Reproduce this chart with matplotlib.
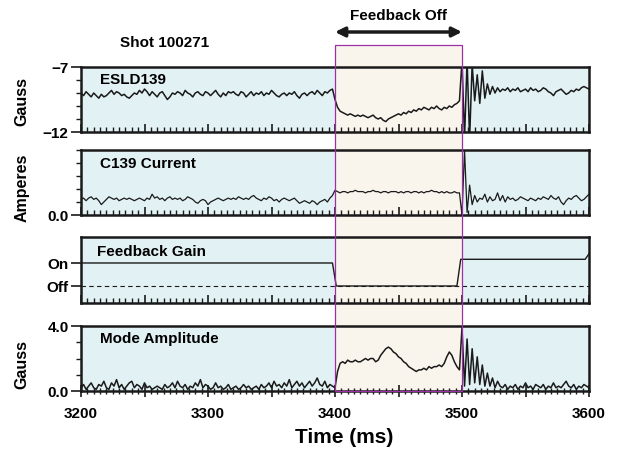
import numpy as np
import matplotlib.pyplot as plt
from matplotlib.patches import Rectangle
from matplotlib.transforms import blended_transform_factory

plt.rcParams['font.family'] = ['Liberation Sans', 'DejaVu Sans']
plt.rcParams['font.weight'] = 'bold'

# samples every 2 ms, 3200..3600
time = np.arange(3200, 3601, 2)

esld139 = [
    -9.0, -9.2, -8.9, -9.1, -9.3, -9.0, -9.2, -9.4, -9.1, -9.3,
    -9.2, -9.0, -8.8, -9.1, -8.9, -9.0, -9.2, -9.1, -9.3, -9.4,
    -9.2, -9.0, -9.1, -8.8, -9.0, -8.7, -8.9, -9.2, -8.9, -9.1,
    -9.3, -9.0, -8.9, -9.2, -9.5, -9.3, -9.0, -9.1, -8.9, -9.0,
    -9.2, -8.8, -9.0, -9.1, -9.3, -9.0, -8.9, -9.1, -9.2, -8.9,
    -9.0, -9.2, -9.0, -8.8, -9.1, -9.3, -9.0, -9.2, -8.9, -9.0,
    -8.9, -9.1, -9.2, -8.9, -9.0, -9.3, -9.1, -8.9, -9.2, -9.0,
    -9.1, -8.9, -9.2, -9.0, -9.1, -8.8, -9.0, -9.2, -9.3, -9.1,
    -9.0, -9.2, -9.0, -9.1, -8.9, -9.2, -9.4, -9.1, -9.0, -9.2,
    -9.0, -8.9, -9.1, -8.8, -9.0, -9.2, -8.9, -9.0, -8.8, -8.7,
    -9.5, -10.1, -10.4, -10.5, -10.6, -10.7, -10.6, -10.7, -10.8, -10.7,
    -10.8, -10.7, -10.8, -10.9, -10.8, -10.7, -10.9, -11.0, -10.9, -11.1,
    -11.2, -11.0, -10.9, -10.8, -10.7, -10.6, -10.7, -10.5, -10.6, -10.4,
    -10.5, -10.3, -10.4, -10.2, -10.3, -10.1, -10.2, -10.3, -10.1, -10.2,
    -10.0, -10.2, -10.3, -10.1, -10.2, -10.0, -10.1, -9.9, -9.8, -9.6,
    -6.5, -12.5, -6.5, -12.5, -6.8, -9.6, -7.6, -9.8, -7.3, -9.4,
    -8.3, -9.1, -8.5, -9.0, -8.6, -8.9, -8.7, -8.8, -8.6, -8.9,
    -8.7, -8.8, -8.6, -8.9, -8.8, -8.7, -8.9, -8.6, -8.8, -8.7,
    -8.9, -8.8, -8.6, -8.7, -8.9, -9.0, -9.2, -8.9, -8.8, -8.7,
    -8.9, -9.1, -9.0, -8.8, -8.9, -8.7, -8.8, -8.6, -8.5, -8.6, -8.7,
]

c139_current = [
    1.2, 1.3, 1.1, 1.3, 1.4, 1.2, 1.3, 1.1, 0.8, 1.0,
    1.2, 1.4, 1.3, 1.2, 1.3, 1.1, 1.2, 1.3, 1.2, 1.3,
    1.2, 1.1, 1.2, 1.3, 1.2, 1.1, 1.3, 1.2, 1.6, 1.3,
    1.4, 1.2, 1.3, 1.1, 1.3, 1.4, 1.2, 1.3, 1.2, 1.3,
    1.1, 1.2, 1.4, 1.3, 1.2, 1.0, 0.9, 1.1, 1.2, 1.1,
    0.8, 1.0, 1.1, 1.2, 1.3, 1.2, 1.1, 1.2, 1.3, 1.2,
    1.3, 1.2, 1.4, 1.3, 1.2, 1.3, 1.2, 1.4, 1.5, 1.3,
    1.2, 1.1, 1.3, 1.2, 1.4, 1.3, 1.1, 1.2, 1.0, 1.2,
    1.3, 1.2, 1.1, 1.2, 1.3, 1.1, 0.9, 1.0, 1.1, 1.0,
    0.9, 1.1, 1.0, 0.8, 1.0, 1.1, 1.2, 1.0, 1.3, 1.5,
    1.9, 1.8, 1.7, 1.8, 1.8, 1.7, 1.8, 1.8, 1.9, 1.8,
    1.8, 1.8, 1.7, 1.8, 1.8, 1.9, 1.8, 1.8, 1.7, 1.8,
    1.8, 1.7, 1.8, 1.8, 1.8, 1.7, 1.8, 1.7, 1.8, 1.8,
    1.7, 1.8, 1.8, 1.7, 1.8, 1.7, 1.8, 1.8, 1.9, 1.8,
    1.8, 1.7, 1.8, 1.7, 1.8, 1.7, 1.7, 1.8, 1.7, 1.7,
    0.0, 5.0, 0.2, 2.3, 0.8, 1.5, 1.0, 1.3, 1.2, 1.6,
    1.0, 1.4, 1.1, 1.2, 1.7, 1.1, 1.5, 1.0, 1.4, 1.2,
    1.3, 1.1, 1.2, 1.4, 1.3, 1.2, 1.1, 1.3, 1.2, 1.1,
    1.3, 1.2, 1.4, 1.3, 1.2, 1.5, 1.3, 1.2, 1.4, 1.0,
    0.8, 1.1, 1.3, 1.2, 1.4, 1.5, 1.3, 1.1, 1.2, 1.4, 1.6,
]

mode_amp = [
    0.2, 0.4, 0.1, 0.3, 0.5, 0.2, 0.1, 0.4, 0.3, 0.6,
    0.2, 0.1, 0.5, 0.3, 0.7, 0.2, 0.4, 0.1, 0.3, 0.5,
    0.6, 0.2, 0.4, 0.3, 0.1, 0.5, 0.2, 0.3, 0.1, 0.2,
    0.3, 0.2, 0.1, 0.4, 0.2, 0.3, 0.5, 0.2, 0.6, 0.3,
    0.2, 0.4, 0.1, 0.3, 0.2, 0.5, 0.3, 0.7, 0.2, 0.4,
    0.3, 0.1, 0.2, 0.5, 0.2, 0.3, 0.1, 0.2, 0.4, 0.1,
    0.2, 0.3, 0.1, 0.2, 0.4, 0.2, 0.3, 0.1, 0.2, 0.3,
    0.1, 0.4, 0.2, 0.3, 0.5, 0.2, 0.6, 0.3, 0.4, 0.2,
    0.5, 0.3, 0.7, 0.2, 0.4, 0.6, 0.3, 0.5, 0.2, 0.4,
    0.6, 0.3, 0.5, 0.8, 0.4, 0.3, 0.6, 0.2, 0.4, 0.3,
    0.2, 1.2, 1.7, 1.8, 1.7, 1.9, 1.8, 1.8, 1.9, 1.8,
    1.8, 1.9, 2.0, 1.9, 2.0, 2.0, 1.8, 1.9, 2.2, 2.4,
    2.6, 2.7, 2.6, 2.4, 2.3, 2.1, 2.0, 1.8, 1.7, 1.5,
    1.4, 1.3, 1.2, 1.3, 1.3, 1.4, 1.3, 1.5, 1.4, 1.5,
    1.5, 1.6, 1.5, 1.7, 2.1, 2.4, 2.2, 1.8, 1.5, 1.3,
    3.9, 0.3, 3.2, 0.4, 2.6, 0.5, 2.1, 0.4, 1.6, 0.3,
    1.1, 0.3, 0.8, 0.2, 0.6, 0.3, 0.2, 0.4, 0.1, 0.3,
    0.2, 0.4, 0.1, 0.3, 0.2, 0.5, 0.2, 0.3, 0.1, 0.4,
    0.3, 0.2, 0.4, 0.1, 0.3, 0.2, 0.5, 0.2, 0.3, 0.2,
    0.4, 0.6, 0.3, 0.2, 0.4, 0.1, 0.3, 0.2, 0.4, 0.3, 0.2,
]

# feedback gain (1 = On, 0 = Off)
gain_time = [3200, 3398, 3401, 3496, 3499, 3597, 3600]
gain_val = [1, 1, 0, 0, 1.16, 1.16, 1.4]

off_start, off_end = 3400, 3500
x_ticks = [3200, 3250, 3300, 3350, 3400, 3450, 3500, 3550, 3600]
x_tick_labels = ['3200', '', '3300', '', '3400', '', '3500', '', '3600']

blue = '#e2f1f3'
beige = '#faf5ec'
purple = '#9a2fa6'
ink = '#1a1a1a'

W, H = 618, 456
fig = plt.figure(figsize=(W / 100, H / 100), dpi=100)


def box(top, bottom):
    return [81 / W, 1 - bottom / H, 508 / W, (bottom - top) / H]


ax1 = fig.add_axes(box(68, 133))
ax2 = fig.add_axes(box(151, 216))
ax3 = fig.add_axes(box(238, 304))
ax4 = fig.add_axes(box(327, 392))
axes = [ax1, ax2, ax3, ax4]

for ax in axes:
    ax.set_facecolor(blue)
    ax.axvspan(off_start, off_end, color=beige, zorder=0)
    ax.set_xlim(3200, 3600)
    for s in ax.spines.values():
        s.set_linewidth(1.8)
        s.set_color(ink)
    ax.set_xticks(x_ticks)
    ax.set_xticks(np.arange(3200, 3601, 5), minor=True)
    ax.tick_params(axis='x', which='major', direction='in', length=6, width=1.2,
                   color=ink, labelbottom=False)
    ax.tick_params(axis='x', which='minor', direction='in', length=3.5, width=1.0,
                   color=ink)
    ax.tick_params(axis='y', which='major', direction='out', length=7, width=1.2,
                   color=ink, labelsize=11, pad=2)
    ax.tick_params(axis='y', which='minor', direction='out', length=3.5, width=1.0,
                   color=ink)

# ESLD139
ax1.plot(time, esld139, color=ink, lw=1.1)
ax1.set_ylim(-12, -7)
ax1.set_yticks([-12, -7])
ax1.set_yticklabels(['\u221212', '\u22127'])
ax1.set_yticks([-11, -10, -9, -8], minor=True)
ax1.text(0.037, 0.815, 'ESLD139', transform=ax1.transAxes, fontsize=11, va='center')

# C139 current
ax2.plot(time, c139_current, color=ink, lw=0.9)
ax2.set_ylim(0, 5)
ax2.set_yticks([0])
ax2.set_yticklabels(['0.0'])
ax2.set_yticks([1, 2, 3, 4, 5], minor=True)
ax2.text(0.037, 0.8, 'C139 Current', transform=ax2.transAxes, fontsize=11, va='center')

# feedback gain
ax3.axhline(0, color=ink, lw=0.8, ls=(0, (4, 3)))
ax3.plot(gain_time, gain_val, color=ink, lw=1.0)
ax3.set_ylim(-0.74, 2.13)
ax3.set_yticks([0, 1])
ax3.set_yticklabels(['Off', 'On'])
ax3.text(0.031, 0.79, 'Feedback Gain', transform=ax3.transAxes, fontsize=11, va='center')

# mode amplitude
ax4.plot(time, mode_amp, color=ink, lw=1.1)
ax4.set_ylim(0, 4)
ax4.set_yticks([0, 4])
ax4.set_yticklabels(['0.0', '4.0'])
ax4.set_yticks([1, 2, 3], minor=True)
ax4.text(0.037, 0.815, 'Mode Amplitude', transform=ax4.transAxes, fontsize=11, va='center')
ax4.tick_params(axis='x', which='major', direction='inout', length=8, labelbottom=True,
                labelsize=11, pad=7)
ax4.tick_params(axis='x', which='minor', direction='inout', length=5)
ax4.set_xticklabels(x_tick_labels)

# feedback-off window spanning all panels
tr = blended_transform_factory(ax4.transData, fig.transFigure)
y0 = 1 - 392 / H
y1 = 1 - 46 / H
fig.add_artist(Rectangle((off_start, y0), off_end - off_start, y1 - y0, transform=tr,
                         facecolor=beige, edgecolor='none', zorder=-1))
fig.add_artist(Rectangle((off_start, y0), off_end - off_start, y1 - y0, transform=tr,
                         fill=False, edgecolor=purple, lw=0.9, zorder=5))

ax1.annotate('', xy=(off_end, 1 - 33 / H), xytext=(off_start, 1 - 33 / H),
             xycoords=('data', 'figure fraction'), textcoords=('data', 'figure fraction'),
             arrowprops=dict(arrowstyle='<|-|>', color=ink, lw=2.5, mutation_scale=14,
                             shrinkA=0, shrinkB=0),
             annotation_clip=False)

fig.text(398 / W, 1 - 16 / H, 'Feedback Off', ha='center', va='center', fontsize=11)
fig.text(165 / W, 1 - 43 / H, 'Shot 100271', ha='center', va='center', fontsize=11)
fig.text(22 / W, 1 - 102 / H, 'Gauss', rotation=90, ha='center', va='center', fontsize=11.5)
fig.text(22 / W, 1 - 188 / H, 'Amperes', rotation=90, ha='center', va='center', fontsize=11.5)
fig.text(22 / W, 1 - 365 / H, 'Gauss', rotation=90, ha='center', va='center', fontsize=11.5)
fig.text(344 / W, 1 - 438 / H, 'Time (ms)', ha='center', va='center', fontsize=15)

fig.savefig('out.png', dpi=100)
